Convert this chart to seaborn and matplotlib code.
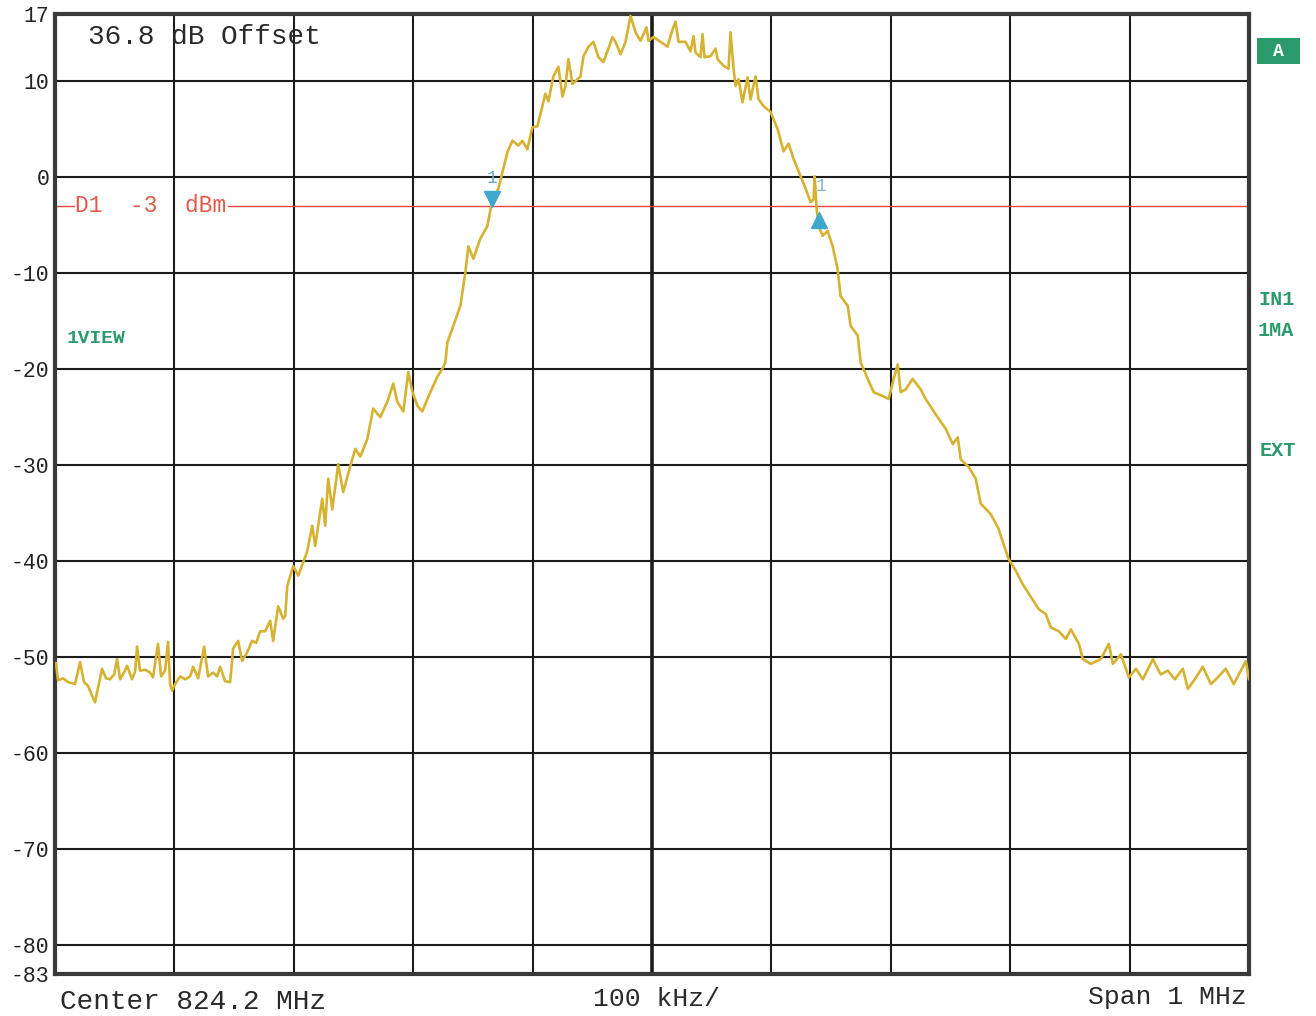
import matplotlib
matplotlib.use("Agg")
import matplotlib.pyplot as plt
import matplotlib.transforms as mtransforms
from matplotlib.patches import Rectangle
import seaborn as sns
import pandas as pd

# Trace: frequency offset from the span start (kHz) and level (dBm)
freq_khz = [
    0.8, 2.5, 6.7, 10.9, 16.8, 21.0, 24.3, 27.7, 31.0, 33.5, 36.0, 39.4, 42.7, 46.1,
    49.5, 52.0, 54.5, 57.8, 60.4, 64.5, 67.1, 68.7, 71.2, 75.4, 79.6, 82.1, 86.3, 88.8,
    92.2, 94.7, 96.4, 98.1, 100.6, 104.8, 109.0, 113.2, 115.7, 119.9, 124.9, 128.2,
    132.4, 135.8, 138.3, 142.5, 146.7, 149.2, 153.4, 156.7, 160.9, 165.1, 168.5, 171.8,
    176.0, 180.2, 182.7, 186.9, 191.1, 192.8, 194.5, 199.5, 203.7, 211.2, 215.4, 217.9,
    223.8, 226.3, 228.8, 232.2, 237.2, 241.4, 247.3, 251.5, 255.7, 261.5, 266.5, 272.4,
    278.3, 283.3, 286.7, 291.7, 295.9, 299.2, 303.4, 307.6, 314.3, 320.2, 325.2, 326.9,
    328.6, 333.6, 339.5, 343.7, 346.2, 350.4, 356.2, 362.1, 366.3, 371.3, 374.7, 378.9,
    383.1, 388.1, 391.4, 395.6, 399.8, 404.0, 408.2, 410.7, 413.2, 417.4, 421.6, 425.0,
    427.5, 430.0, 433.4, 435.9, 440.1, 442.6, 446.8, 451.0, 455.1, 459.3, 463.5, 466.9,
    469.4, 473.6, 477.8, 482.0, 486.2, 490.3, 495.4, 497.1, 501.2, 507.1, 513.0, 517.2,
    519.7, 522.2, 528.1, 532.3, 534.8, 536.4, 540.6, 542.3, 544.0, 549.0, 553.2, 554.9,
    559.9, 564.1, 565.8, 568.3, 570.0, 572.5, 575.8, 580.0, 582.5, 586.7, 589.3, 593.5,
    599.3, 605.2, 610.2, 614.4, 618.6, 624.5, 628.7, 632.8, 635.4, 636.2, 637.9, 639.6,
    642.9, 647.1, 651.3, 655.5, 658.0, 663.9, 666.4, 672.3, 674.8, 680.6, 685.7, 693.2,
    698.2, 702.4, 705.8, 708.3, 712.5, 718.3, 725.0, 729.2, 737.6, 746.0, 751.9, 756.1,
    758.6, 765.3, 771.1, 775.3, 783.7, 790.2, 793.8, 798.8, 804.7, 810.5, 817.2, 823.9,
    829.8, 834.0, 840.7, 846.6, 850.8, 857.5, 860.8, 867.5, 875.9, 882.6, 886.0, 892.7,
    899.4, 905.3, 911.1, 919.5, 926.0, 932.0, 937.9, 944.6, 948.8, 954.6, 961.3, 968.1,
    973.9, 980.5, 987.2, 993.2, 997.4, 1000.0,
]
level_dbm = [
    -50.6, -52.4, -52.2, -52.6, -52.8, -50.5, -52.6, -53.0, -54.0, -54.7, -53.2, -51.2, -52.2, -52.3,
    -51.8, -50.2, -52.3, -51.6, -50.9, -52.3, -51.5, -48.9, -51.4, -51.3, -51.6, -52.1, -48.6, -52.0,
    -51.4, -48.4, -52.8, -53.5, -52.8, -52.0, -52.3, -52.0, -51.0, -52.2, -48.9, -52.0,
    -51.6, -52.0, -51.0, -52.5, -52.6, -49.1, -48.3, -50.4, -49.5, -48.3, -48.5, -47.3,
    -47.3, -46.2, -48.3, -44.7, -46.0, -45.7, -42.6, -40.5, -41.5, -39.0, -36.3, -38.4,
    -33.5, -36.3, -31.4, -34.6, -29.9, -32.8, -30.1, -28.3, -29.1, -27.3, -24.1, -25.0,
    -23.4, -21.5, -23.4, -24.4, -20.3, -22.3, -23.8, -24.4, -22.4, -20.8, -19.8, -19.3,
    -17.2, -15.5, -13.4, -9.9, -7.2, -8.5, -6.4, -5.1, -2.3, -1.2, 0.5, 2.6,
    3.8, 3.3, 3.8, 2.9, 5.2, 5.3, 7.4, 8.7, 7.9, 10.5, 11.5, 8.4,
    9.5, 12.3, 9.7, 10.0, 10.5, 12.6, 13.6, 14.1, 12.5, 12.0, 13.4, 14.6,
    14.1, 12.8, 14.1, 16.8, 15.1, 14.2, 15.6, 14.2, 14.6, 14.1, 13.6, 15.4,
    16.2, 14.1, 14.1, 13.1, 14.7, 13.0, 12.5, 14.9, 12.5, 12.6, 13.4, 12.3,
    11.6, 11.3, 15.1, 11.3, 9.5, 10.2, 7.8, 10.4, 8.1, 10.5, 8.1, 7.4,
    6.8, 5.0, 2.7, 3.5, 1.9, 0.1, -1.2, -2.6, -2.3, 0.1, -3.3, -5.1,
    -6.1, -5.6, -7.2, -9.6, -12.4, -13.4, -15.5, -16.5, -19.3, -21.0, -22.4, -22.8,
    -23.1, -21.0, -19.5, -22.4, -22.1, -21.0, -22.1, -23.1, -24.7, -26.2, -27.8, -27.1,
    -29.4, -30.2, -31.4, -34.0, -35.1, -36.6, -38.0, -39.8, -41.0, -42.4, -43.7, -45.0,
    -45.5, -46.9, -47.3, -48.1, -47.1, -48.6, -50.2, -50.7, -50.2, -48.6, -50.7, -49.7,
    -52.1, -51.2, -52.3, -50.2, -51.8, -51.4, -52.3, -51.2, -53.3, -52.3, -51.0, -52.8,
    -52.1, -51.2, -52.8, -51.4, -50.4, -52.3,
]

# Display line and -3 dB markers
display_line_dbm = -3
marker_freq_khz = [366.3, 639.6]
marker_level_dbm = [-3, -3]

y_ticks = [17, 10, 0, -10, -20, -30, -40, -50, -60, -70, -80, -83]
y_tick_labels = ["17", "10", "0", "-10", "-20", "-30", "-40", "-50", "-60", "-70", "-80", "-83"]
x_grid_khz = [0, 100, 200, 300, 400, 500, 600, 700, 800, 900, 1000]

sns.set_style("white")
mono = ["Liberation Mono", "DejaVu Sans Mono"]
plt.rcParams["font.family"] = mono

trace_color = "#d6b232"
green = "#2b9b6b"
red_line = "#e8463c"
marker_blue = "#3fa6cf"

fig = plt.figure(figsize=(13.16, 10.16), dpi=100)
fig.patch.set_facecolor("white")
W, H = 1316, 1016
ax = fig.add_axes([55 / W, 1 - 974 / H, (1249 - 55) / W, (974 - 14) / H])

df = pd.DataFrame({"freq": freq_khz, "level": level_dbm})

ax.set_xlim(0, 1000)
ax.set_ylim(-83, 17)
ax.set_xticks(x_grid_khz)
ax.set_xticklabels([])
ax.set_yticks(y_ticks)
ax.set_yticklabels(y_tick_labels, fontsize=15.5, color="#222222")
ax.tick_params(length=0, pad=4)

# graticule
for gx in x_grid_khz[1:-1]:
    ax.axvline(gx, color="#1c1c1c", lw=2.6 if gx == 500 else 1.5, zorder=1)
for gy in y_ticks[1:-1]:
    ax.axhline(gy, color="#1c1c1c", lw=1.5, zorder=1)
for s in ax.spines.values():
    s.set_linewidth(3.0)
    s.set_color("#3a3a3a")

# display line, broken around its label
ax.plot([0, 16], [display_line_dbm, display_line_dbm], color=red_line, lw=1.0, zorder=2)
ax.plot([145, 1000], [display_line_dbm, display_line_dbm], color=red_line, lw=1.0, zorder=2)
ax.text(17, display_line_dbm, "D1  -3  dBm", color="#e45a48", fontsize=16.5,
        va="center", ha="left", zorder=3)

# spectrum trace
sns.lineplot(data=df, x="freq", y="level", ax=ax, color=trace_color, lw=1.9,
             sort=False, zorder=4, legend=False)
ax.set_xlabel("")
ax.set_ylabel("")

# -3 dB markers
up = mtransforms.offset_copy(ax.transData, fig=fig, x=0, y=7, units="dots")
down = mtransforms.offset_copy(ax.transData, fig=fig, x=0, y=-14, units="dots")
ax.plot(marker_freq_khz[0], marker_level_dbm[0], marker="v", ms=11,
        color=marker_blue, transform=up, zorder=5, clip_on=False)
ax.plot(marker_freq_khz[1], marker_level_dbm[1], marker="^", ms=11,
        color=marker_blue, transform=down, zorder=5, clip_on=False)
lab1 = mtransforms.offset_copy(ax.transData, fig=fig, x=0, y=27, units="dots")
lab2 = mtransforms.offset_copy(ax.transData, fig=fig, x=2, y=19, units="dots")
ax.text(marker_freq_khz[0], marker_level_dbm[0], "1", transform=lab1, color="#6aa8cc",
        fontsize=13, ha="center", va="center", zorder=5)
ax.text(marker_freq_khz[1], marker_level_dbm[1], "1", transform=lab2, color="#8ab8d8",
        fontsize=13, ha="center", va="center", zorder=5)

# annotations
ax.text(28, 16.0, "36.8 dB Offset", fontsize=20, color="#2a2a2a",
        ha="left", va="top", zorder=6)
ax.text(10, -16.8, "1VIEW", fontsize=14, color=green, fontweight="bold",
        ha="left", va="center", zorder=6)

fig.add_artist(Rectangle((1257 / W, 1 - 64 / H), 43 / W, 26 / H,
                         transform=fig.transFigure, facecolor=green, edgecolor="none"))
fig.text(1278 / W, 1 - 51 / H, "A", fontsize=13, color="white", fontweight="bold",
         ha="center", va="center")
fig.text(1258 / W, 1 - 300 / H, "IN1", fontsize=14.5, color=green, fontweight="bold",
         ha="left", va="center")
fig.text(1258 / W, 1 - 331 / H, "1MA", fontsize=14.5, color=green, fontweight="bold",
         ha="left", va="center")
fig.text(1260 / W, 1 - 451 / H, "EXT", fontsize=14.5, color=green, fontweight="bold",
         ha="left", va="center")

fig.text(60 / W, 1 - 1002 / H, "Center 824.2 MHz", fontsize=20, color="#2a2a2a",
         ha="left", va="center")
fig.text(593 / W, 1 - 999 / H, "100 kHz/", fontsize=19, color="#2a2a2a",
         ha="left", va="center")
fig.text(1247 / W, 1 - 997 / H, "Span 1 MHz", fontsize=19, color="#2a2a2a",
         ha="right", va="center")

fig.savefig("out.png", dpi=100)
